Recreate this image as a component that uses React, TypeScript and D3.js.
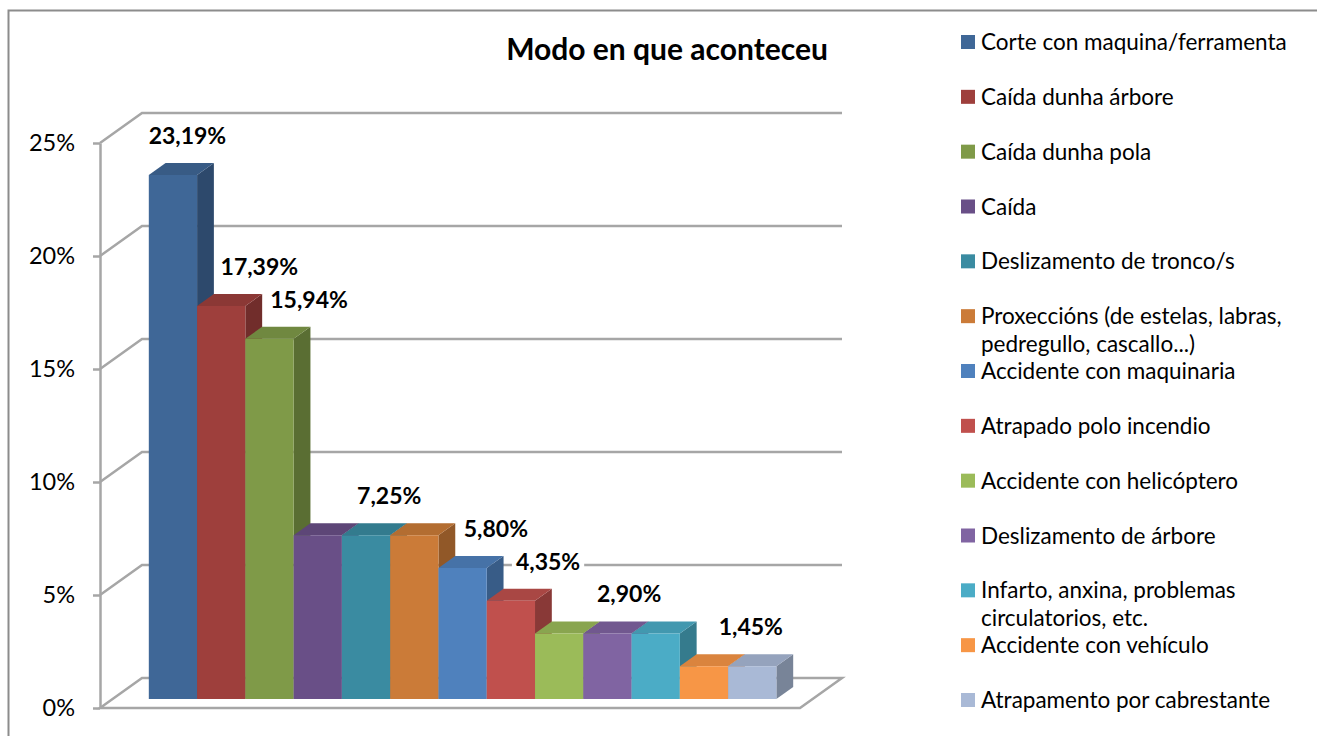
import React, { useEffect, useRef } from "react";
import * as d3 from "d3";

// ---- data ----
const categories = [
  "Corte con maquina/ferramenta",
  "Caída dunha árbore",
  "Caída dunha pola",
  "Caída",
  "Deslizamento de tronco/s",
  "Proxeccións (de estelas, labras, pedregullo, cascallo...)",
  "Accidente con maquinaria",
  "Atrapado polo incendio",
  "Accidente con helicóptero",
  "Deslizamento de árbore",
  "Infarto, anxina, problemas circulatorios, etc.",
  "Accidente con vehículo",
  "Atrapamento por cabrestante",
];
const values = [23.19, 17.39, 15.94, 7.25, 7.25, 7.25, 5.8, 4.35, 2.9, 2.9, 2.9, 1.45, 1.45];
const colors = [
  "#3f6797", "#9e3f3c", "#7f9a48", "#694f87", "#3a8ba1", "#cb7b38",
  "#4f81bd", "#c0504d", "#9bbb59", "#8064a2", "#4bacc6", "#f79646", "#a9b9d6",
];
const yTicks = [0, 5, 10, 15, 20, 25];
const legendLines = [
  ["Corte con maquina/ferramenta"],
  ["Caída dunha árbore"],
  ["Caída dunha pola"],
  ["Caída"],
  ["Deslizamento de tronco/s"],
  ["Proxeccións (de estelas, labras,", "pedregullo, cascallo...)"],
  ["Accidente con maquinaria"],
  ["Atrapado polo incendio"],
  ["Accidente con helicóptero"],
  ["Deslizamento de árbore"],
  ["Infarto, anxina, problemas", "circulatorios, etc."],
  ["Accidente con vehículo"],
  ["Atrapamento por cabrestante"],
];
// which bars carry a data label, and where (in category units) the label is centred
const labeledBars = [0, 1, 2, 5, 6, 7, 9, 12];
const labelAnchor = [0.8, 2.29, 3.32, 4.98, 7.19, 8.27, 9.95, 12.47];
const title = "Modo en que aconteceu";

const FONT = "Lato, 'Open Sans', sans-serif";

export default function App() {
  const ref = useRef<SVGSVGElement | null>(null);

  useEffect(() => {
    const svg = d3.select(ref.current);
    svg.selectAll("*").remove();

    // 3D projection parameters
    const DX = 42, DY = -30; // full depth of the floor
    const zFront = 0.3, zBack = 0.7; // bar depth within floor

    const x = d3.scaleBand<string>().domain(categories).range([100, 800]).paddingInner(0).paddingOuter(0.75);
    const y = d3.scaleLinear().domain([0, 25]).range([708, 143]);
    const bw = x.bandwidth();

    const P = (px: number, py: number, z: number): [number, number] => [px + z * DX, py + z * DY];

    // outer frame
    svg.append("rect")
      .attr("x", 8.5).attr("y", 10.5).attr("width", 1400).attr("height", 800)
      .attr("fill", "#fff").attr("stroke", "#8c8c8c").attr("stroke-width", 2);

    const grid = svg.append("g").attr("fill", "none").attr("stroke", "#a6a6a6").attr("stroke-width", 2.5);
    // floor
    const x0 = 100, x1 = 800;
    const floor = [P(x0, y(0), 0), P(x1, y(0), 0), P(x1, y(0), 1), P(x0, y(0), 1)];
    grid.append("path")
      .attr("d", d3.line()(floor)! + "Z")
      .attr("stroke-linejoin", "miter");
    // wall gridlines
    yTicks.filter((t) => t > 0).forEach((t) => {
      const pts = [P(x0, y(t), 0), P(x0, y(t), 1), P(x1, y(t), 1)];
      grid.append("path").attr("d", d3.line()(pts)!);
    });

    // bars
    const bars = svg.append("g");
    values.forEach((v, i) => {
      const c = d3.color(colors[i])!;
      const side = c.darker(0.95).formatHex();
      const top = c.darker(0.35).formatHex();
      const xl = x(categories[i])!;
      const xr = xl + bw;
      const yb = y(0), yt = y(v);
      const front = [P(xl, yb, zFront), P(xr, yb, zFront), P(xr, yt, zFront), P(xl, yt, zFront)];
      const sideF = [P(xr, yb, zFront), P(xr, yb, zBack), P(xr, yt, zBack), P(xr, yt, zFront)];
      const topF = [P(xl, yt, zFront), P(xr, yt, zFront), P(xr, yt, zBack), P(xl, yt, zBack)];
      bars.append("path").attr("d", d3.line()(sideF)! + "Z").attr("fill", side);
      bars.append("path").attr("d", d3.line()(topF)! + "Z").attr("fill", top);
      bars.append("path").attr("d", d3.line()(front)! + "Z").attr("fill", colors[i]);
    });

    // data labels
    const lab = svg.append("g");
    const x0p = P(x(categories[0])!, 0, zFront)[0];
    labeledBars.forEach((bi, k) => {
      const v = values[bi];
      const cx = x0p + labelAnchor[k] * bw;
      const by = P(0, y(v), zFront)[1] - 31;
      const g = lab.append("g");
      const rect = g.append("rect").attr("fill", "#fff");
      const t = g.append("text")
        .attr("x", cx).attr("y", by)
        .attr("text-anchor", "middle")
        .attr("font-family", FONT).attr("font-weight", "bold").attr("font-size", 23)
        .attr("fill", "#000")
        .text(d3.format(".2f")(v).replace(".", ",") + "%");
      const bb = (t.node() as SVGTextElement).getBBox();
      rect.attr("x", bb.x - 4).attr("y", bb.y).attr("width", bb.width + 8).attr("height", bb.height);
    });

    // axis
    const axis = d3.axisLeft(y).tickValues(yTicks).tickSize(7).tickSizeOuter(0).tickPadding(18)
      .tickFormat((d) => `${d}%`);
    const ag = svg.append("g").attr("transform", "translate(100,0)").call(axis);
    ag.select(".domain").attr("stroke", "#a6a6a6").attr("stroke-width", 2.5);
    ag.selectAll(".tick line").attr("stroke", "#a6a6a6").attr("stroke-width", 2.5);
    ag.selectAll(".tick text").attr("font-family", FONT).attr("font-size", 23.5).attr("fill", "#000");

    // title
    svg.append("text")
      .attr("x", 667).attr("y", 60).attr("text-anchor", "middle")
      .attr("font-family", FONT).attr("font-weight", "bold").attr("font-size", 30)
      .attr("fill", "#000").text(title);

    // legend
    const ly = d3.scalePoint<string>().domain(categories).range([42, 700]);
    const leg = svg.append("g");
    categories.forEach((c, i) => {
      const cy = ly(c)!;
      leg.append("rect").attr("x", 961).attr("y", cy - 7).attr("width", 14).attr("height", 14).attr("fill", colors[i]);
      const t = leg.append("text")
        .attr("font-family", FONT).attr("font-size", 22.5).attr("fill", "#000");
      legendLines[i].forEach((line, j) => {
        t.append("tspan").attr("x", 981).attr("y", cy + j * 28).attr("dy", "0.36em").text(line);
      });
    });
  }, []);

  return (
    <svg
      ref={ref}
      width={1317}
      height={736}
      style={{ position: "absolute", left: 0, top: 0, display: "block", background: "#fff" }}
    />
  );
}
